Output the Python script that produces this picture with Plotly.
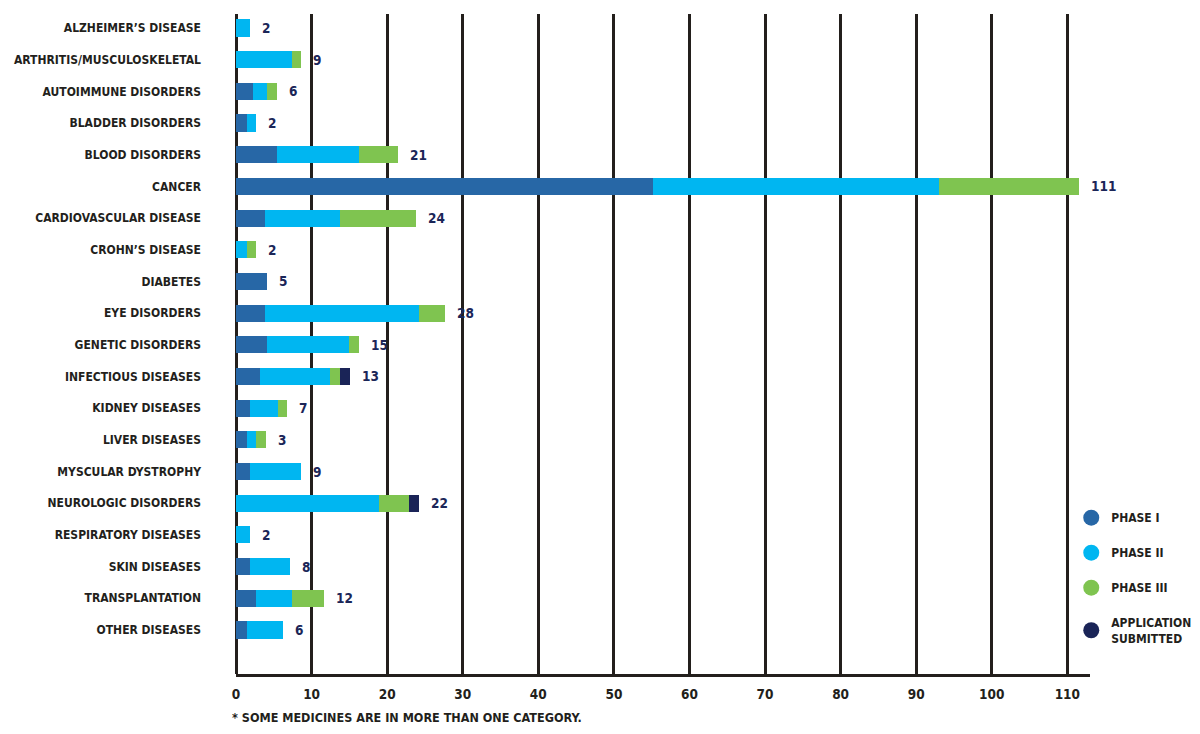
import plotly.graph_objects as go

categories = ["ALZHEIMER’S DISEASE", "ARTHRITIS/MUSCULOSKELETAL", "AUTOIMMUNE DISORDERS",
              "BLADDER DISORDERS", "BLOOD DISORDERS", "CANCER", "CARDIOVASCULAR DISEASE",
              "CROHN’S DISEASE", "DIABETES", "EYE DISORDERS", "GENETIC DISORDERS",
              "INFECTIOUS DISEASES", "KIDNEY DISEASES", "LIVER DISEASES", "MYSCULAR DYSTROPHY",
              "NEUROLOGIC DISORDERS", "RESPIRATORY DISEASES", "SKIN DISEASES",
              "TRANSPLANTATION", "OTHER DISEASES"]

phase1 = [0, 0, 2.3, 1.4, 5.4, 55.2, 3.8, 0, 4.1, 3.8, 4.1, 3.2, 1.9, 1.4, 1.9, 0, 0, 1.9, 2.7, 1.4]
phase2 = [1.9, 7.35, 1.8, 1.3, 10.9, 37.8, 10.0, 1.4, 0, 20.4, 10.9, 9.3, 3.6, 1.3, 6.7, 18.9, 1.9, 5.3, 4.7, 4.8]
phase3 = [0, 1.3, 1.3, 0, 5.2, 18.6, 10.0, 1.3, 0, 3.5, 1.3, 1.3, 1.3, 1.3, 0, 4.0, 0, 0, 4.3, 0]
app_sub = [0, 0, 0, 0, 0, 0, 0, 0, 0, 0, 0, 1.3, 0, 0, 0, 1.3, 0, 0, 0, 0]
totals = ["2", "9", "6", "2", "21", "111", "24", "2", "5", "28", "15", "13", "7", "3", "9", "22", "2", "8", "12", "6"]

x_ticks = [0, 10, 20, 30, 40, 50, 60, 70, 80, 90, 100, 110]
series_names = ["PHASE I", "PHASE II", "PHASE III", "APPLICATION<br>SUBMITTED"]
colors = ["#2767a6", "#00b6f1", "#7fc450", "#1a2457"]

FONT = "DejaVu Sans Condensed, Roboto, sans-serif"
DARK = "#231f1c"
NAVY = "#1b2658"

fig = go.Figure()
for name, vals, col in zip(series_names, [phase1, phase2, phase3, app_sub], colors):
    fig.add_trace(go.Bar(y=categories, x=vals, orientation="h", marker=dict(color=col, line=dict(width=0)),
                         name=name, showlegend=False))
for name, col in zip(series_names, colors):
    fig.add_trace(go.Scatter(x=[None], y=[None], mode="markers",
                             marker=dict(symbol="circle", size=16, color=col),
                             name=name, legendgroup=name, showlegend=True))

for cat, a, b, c, d, t in zip(categories, phase1, phase2, phase3, app_sub, totals):
    fig.add_annotation(x=a + b + c + d, y=cat, text=t, showarrow=False, xanchor="left",
                       xshift=10, font=dict(family=FONT, size=13.5, color=NAVY, weight="bold"))

fig.add_annotation(x=0, y=0, xref="paper", yref="paper", yshift=-43, xshift=-6,
                   text="* SOME MEDICINES ARE IN MORE THAN ONE CATEGORY.", showarrow=False,
                   xanchor="left", yanchor="middle",
                   font=dict(family=FONT, size=12.5, color=DARK, weight="bold"))

fig.update_layout(
    width=1192, height=726,
    margin=dict(l=228, r=110, t=6, b=60, autoexpand=False),
    barmode="stack", bargap=0.46,
    plot_bgcolor="white", paper_bgcolor="white",
    legend=dict(xref="container", yref="container", x=0.892, y=0.318, xanchor="left", yanchor="top",
                bgcolor="rgba(0,0,0,0)",
                font=dict(family=FONT, size=12, color=DARK, weight="bold"),
                traceorder="grouped", tracegroupgap=16, itemsizing="trace"),
    xaxis=dict(range=[0, 113], tickvals=x_ticks, showgrid=True, gridcolor=DARK, gridwidth=3,
               zeroline=True, zerolinecolor=DARK, zerolinewidth=3, automargin=False,
               showline=True, linecolor=DARK, linewidth=3, ticks="", ticklabelstandoff=6,
               tickfont=dict(family=FONT, size=13.5, color=DARK, weight="bold")),
    yaxis=dict(type="category", range=[20.39, -0.44], showgrid=False, ticks="",
               ticklabelstandoff=34, automargin=False,
               tickfont=dict(family=FONT, size=12, color=DARK, weight="bold")),
)

fig.write_html("out.html")
